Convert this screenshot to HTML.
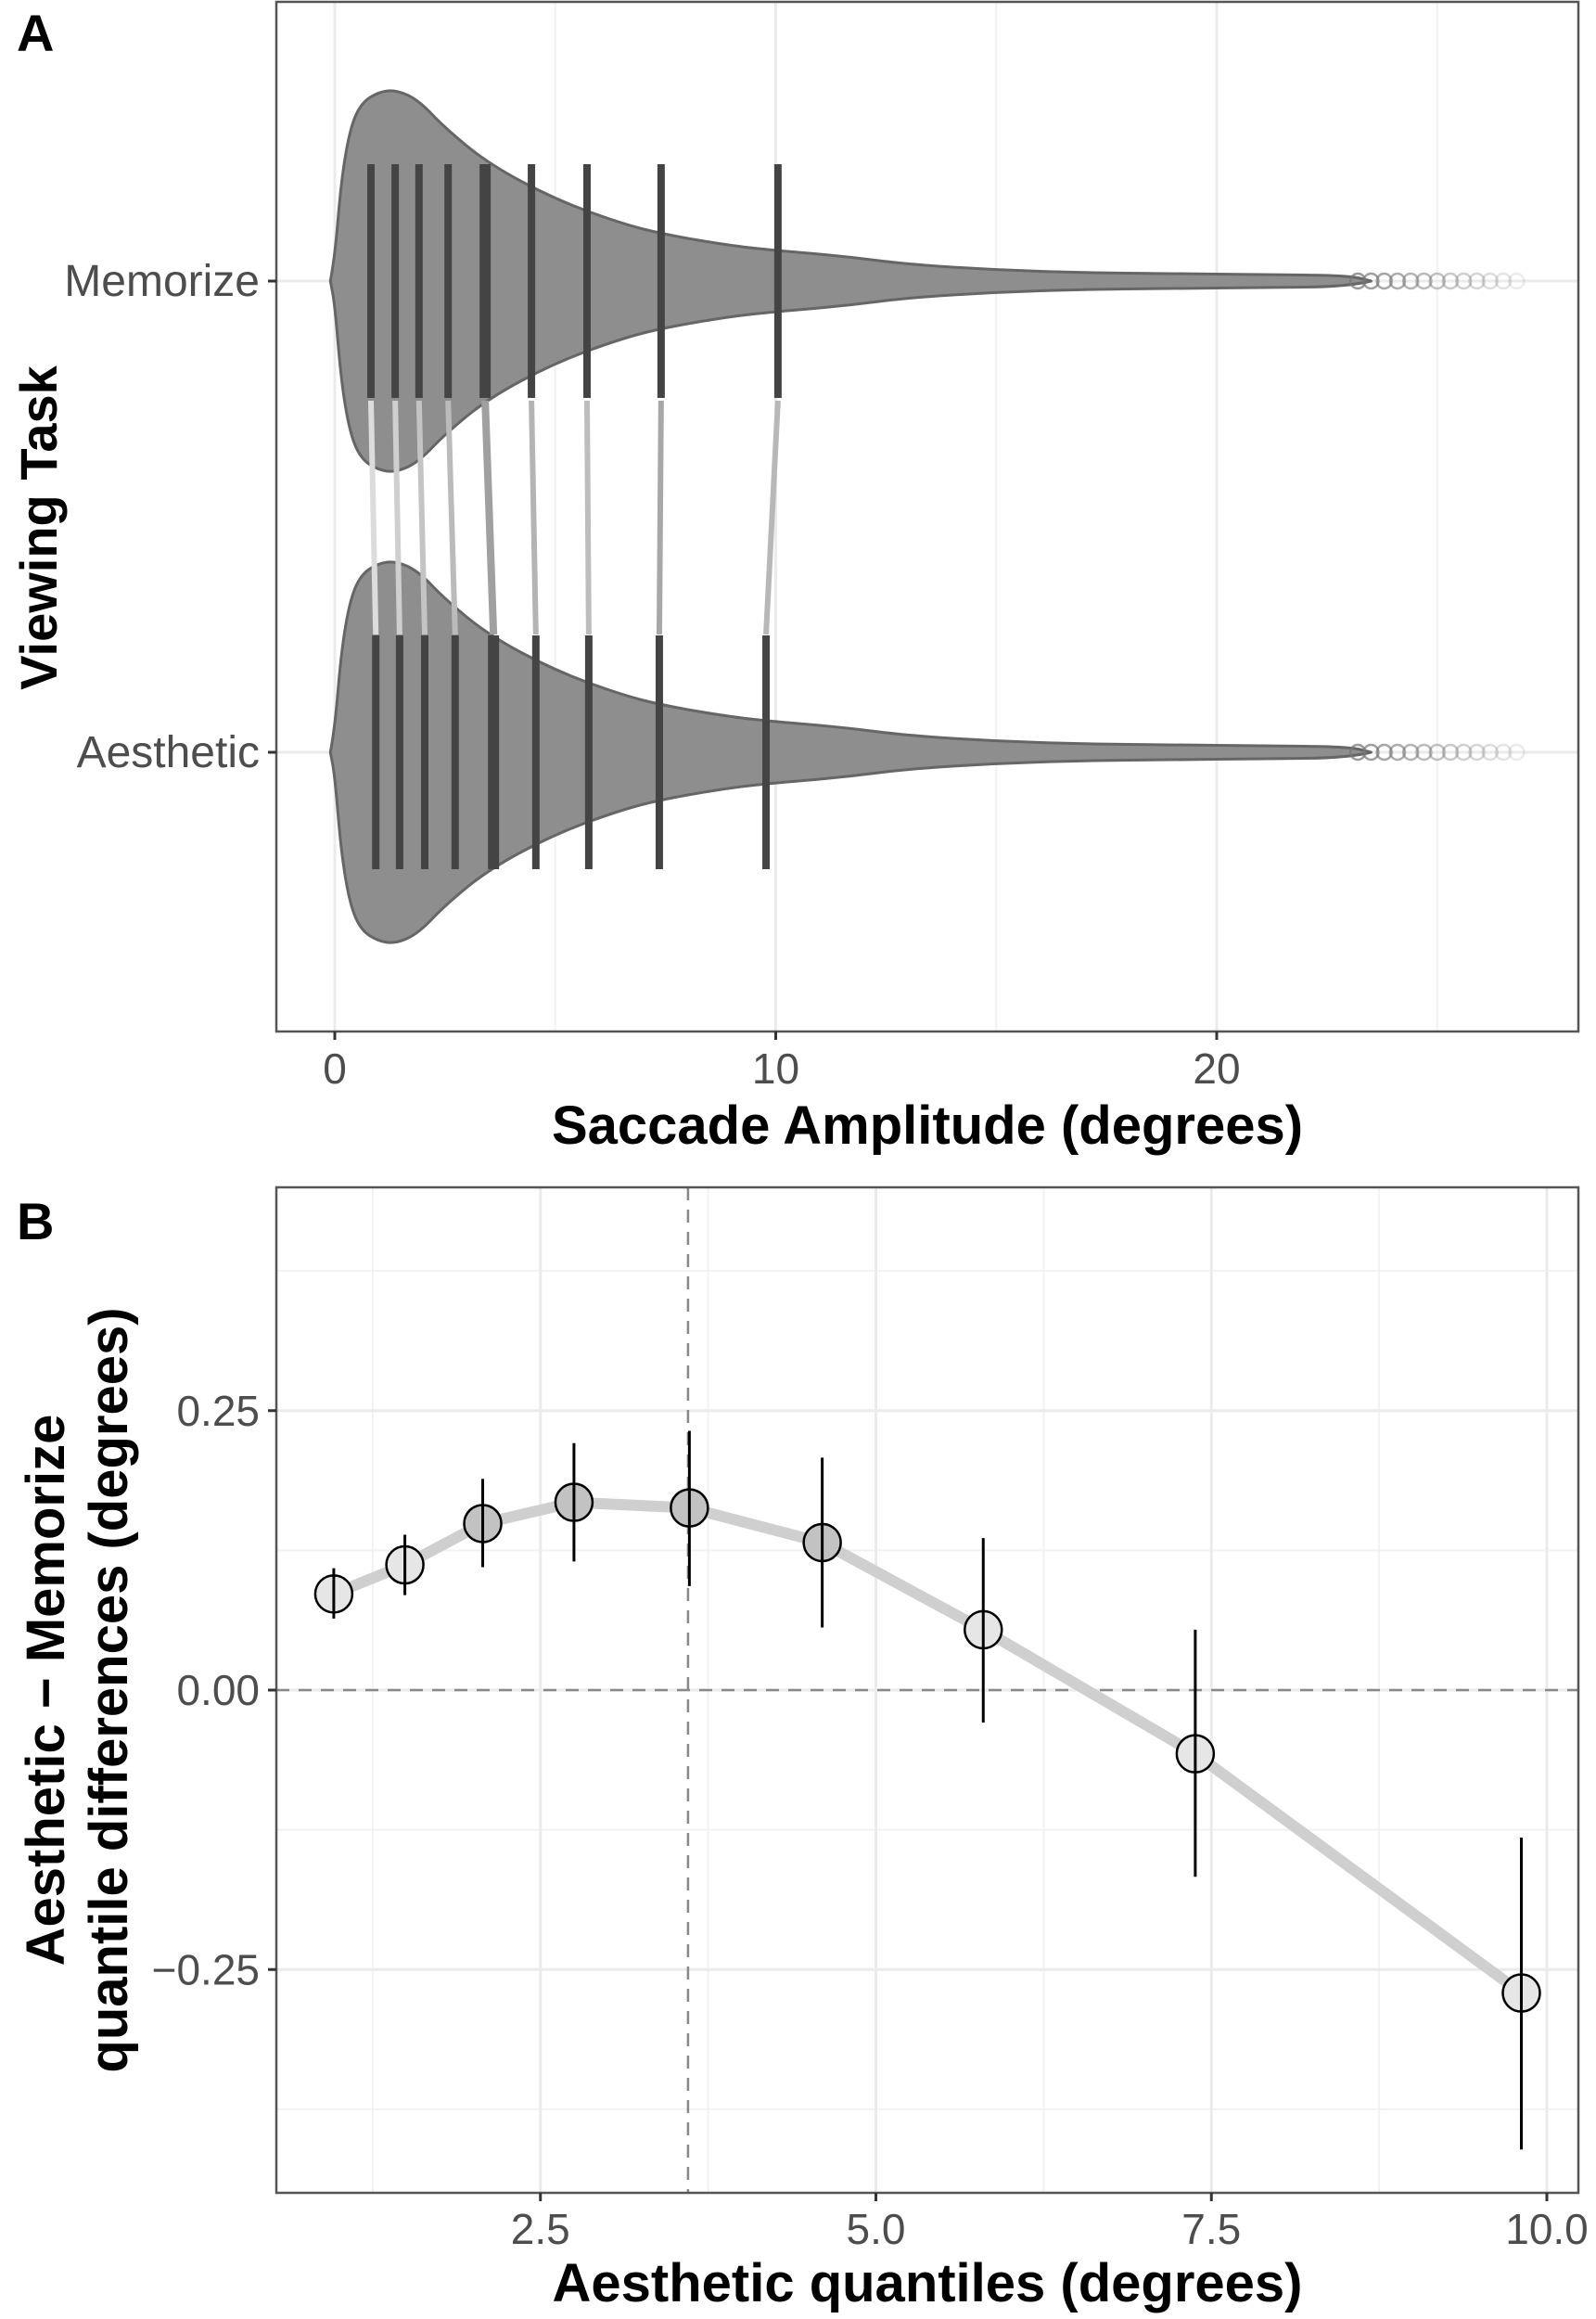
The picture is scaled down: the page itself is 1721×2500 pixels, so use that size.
<!DOCTYPE html>
<html><head><meta charset="utf-8"><style>
html,body{margin:0;padding:0;background:#fff;}
svg{display:block;font-family:"Liberation Sans",sans-serif;}
</style></head><body>
<svg id="fig" width="1721" height="2500" viewBox="0 0 1721 2500" xmlns="http://www.w3.org/2000/svg">
<rect width="1721" height="2500" fill="#fff"/>
<text x="18" y="55" font-size="56" font-weight="bold">A</text>
<text x="18" y="1336" font-size="56" font-weight="bold">B</text>
<g id="pa"></g>
<g id="pb"></g>
</svg>
<script>
// ---- Panel A data ----
const tasks = ["Memorize","Aesthetic"];
const densX = [-0.1,0.0,0.15,0.35,0.6,1.0,1.4,1.9,2.5,3.5,5,6.5,7.5,9,10,11.5,13,15,17,19,21,23,23.5];
const densMem = [0,25,110,165,192,204,206,195,165,126,88,62,50,38,33,27,18,12,9,8,7,6,0];
const densAes = [0,25,110,165,192,204,206,195,165,126,88,62,50,38,33,27,18,12,9,8,7,6,0];
const tailMem = [23.2,23.5,23.8,24.1,24.4,24.7,25.0,25.3,25.6,25.9,26.2,26.5,26.8];
const tailAes = [23.2,23.5,23.8,24.1,24.4,24.7,25.0,25.3,25.6,25.9,26.2,26.5,26.8];
const qMem = [0.82,1.37,1.91,2.57,3.41,4.46,5.72,7.40,10.05];
const qAes = [0.93,1.47,2.04,2.73,3.60,4.56,5.76,7.36,9.78];
const xTicksA = [0,10,20];
// ---- Panel B data ----
const bX = [0.96,1.49,2.07,2.75,3.61,4.60,5.80,7.38,9.81];
const bY = [0.086,0.112,0.149,0.168,0.163,0.132,0.054,-0.057,-0.271];
const bLo = [0.064,0.085,0.110,0.115,0.093,0.056,-0.029,-0.167,-0.411];
const bHi = [0.109,0.139,0.189,0.221,0.232,0.208,0.136,0.054,-0.132];
const bSig = [0,0,1,1,1,1,0,0,0];
const xTicksB = [2.5,5.0,7.5,10.0];
const yTicksB = [0.25,0.00,-0.25];
const yTickLabB = ["0.25","0.00","\u22120.25"];
const medianX = 3.60;

const NS="http://www.w3.org/2000/svg";
function mk(parent,tag,attrs){const e=document.createElementNS(NS,tag);for(const k in attrs)e.setAttribute(k,attrs[k]);parent.appendChild(e);return e;}

// ===== Panel A =====
const A=document.getElementById('pa');
const aL=298,aR=1702,aT=2,aB=1112;
const ax=v=>361+v*47.55;
const ay=i=>[303,811][i];
mk(A,'rect',{x:aL,y:aT,width:aR-aL,height:aB-aT,fill:'#fff'});
[5,15,25].forEach(v=>{const l=mk(A,'line',{x1:ax(v),x2:ax(v),y1:aT,y2:aB,stroke:'#f2f2f2','stroke-width':2});});
xTicksA.forEach(v=>{const l=mk(A,'line',{x1:ax(v),x2:ax(v),y1:aT,y2:aB,stroke:'#ebebeb','stroke-width':3});});
[0,1].forEach(i=>{mk(A,'line',{x1:aL,x2:aR,y1:ay(i),y2:ay(i),stroke:'#ebebeb','stroke-width':3});});
// violins
[densMem,densAes].forEach((d,i)=>{
  const c=ay(i);let top=[],bot=[];
  densX.forEach((v,j)=>{top.push([ax(v),c-d[j]]);bot.push([ax(v),c+d[j]]);});
  function smooth(pts){let s='M'+pts[0].join(',');for(let k=1;k<pts.length-1;k++){const mx=(pts[k][0]+pts[k+1][0])/2,my=(pts[k][1]+pts[k+1][1])/2;s+=' Q'+pts[k].join(',')+' '+mx+','+my;}s+=' L'+pts[pts.length-1].join(',');return s;}
  const br=bot.slice().reverse();
  let p=smooth(top)+' '+smooth(br).replace('M','L')+'Z';
  const v=mk(A,'path',{d:p,fill:'#8e8e8e',stroke:'#666','stroke-width':3,'stroke-linejoin':'round'});
  
  
  const tail=[tailMem,tailAes][i];
  tail.forEach((t,k)=>{const cc=mk(A,'circle',{cx:ax(t),cy:c,r:8,fill:'none',stroke:'#777','stroke-opacity':(0.75-k*0.05).toFixed(2),'stroke-width':2.5});});
});
// connecting segments
const segCol=['#dcdcdc','#cfcfcf','#c4c4c4','#bbb','#a0a0a0','#b4b4b4','#bdbdbd','#a8a8a8','#b8b8b8'];
qMem.forEach((m,k)=>{const l=mk(A,'line',{x1:ax(m),y1:432,x2:ax(qAes[k]),y2:684,stroke:segCol[k],'stroke-width':k==4?8:6});});
[qMem,qAes].forEach((q,i)=>{q.forEach((v,k)=>{const l=mk(A,'line',{x1:ax(v),x2:ax(v),y1:ay(i)-126,y2:ay(i)+126,stroke:'#444','stroke-width':k==4?12:8});});});
mk(A,'rect',{x:aL,y:aT,width:aR-aL,height:aB-aT,fill:'none',stroke:'#555','stroke-width':2.5});
xTicksA.forEach(v=>{mk(A,'line',{x1:ax(v),x2:ax(v),y1:aB,y2:aB+9,stroke:'#333','stroke-width':3});const t=mk(A,'text',{x:ax(v),y:1168,'font-size':46,fill:'#4d4d4d','text-anchor':'middle'});t.textContent=v;});
tasks.forEach((n,i)=>{mk(A,'line',{x1:aL-9,x2:aL,y1:ay(i),y2:ay(i),stroke:'#333','stroke-width':3});const t=mk(A,'text',{x:280,y:ay(i)+16,'font-size':48,fill:'#4d4d4d','text-anchor':'end'});t.textContent=n;});
let t=mk(A,'text',{x:1000,y:1233,'font-size':58,'font-weight':'bold','text-anchor':'middle'});t.textContent='Saccade Amplitude (degrees)';

t=mk(A,'text',{x:0,y:0,'font-size':56,'font-weight':'bold','text-anchor':'middle',transform:'translate(61,569) rotate(-90)'});t.textContent='Viewing Task';


// ===== Panel B =====
const B=document.getElementById('pb');
const bL=298,bR=1702,bT=1280,bB=2364;
const bx=v=>221+v*144.7;
const by=v=>1822-v*1205;
[1.25,3.75,6.25,8.75].forEach(v=>mk(B,'line',{x1:bx(v),x2:bx(v),y1:bT,y2:bB,stroke:'#f2f2f2','stroke-width':2}));
[0.375,0.125,-0.125,-0.375].forEach(v=>mk(B,'line',{x1:bL,x2:bR,y1:by(v),y2:by(v),stroke:'#f2f2f2','stroke-width':2}));
xTicksB.forEach(v=>mk(B,'line',{x1:bx(v),x2:bx(v),y1:bT,y2:bB,stroke:'#ebebeb','stroke-width':3}));
yTicksB.forEach(v=>mk(B,'line',{x1:bL,x2:bR,y1:by(v),y2:by(v),stroke:'#ebebeb','stroke-width':3}));
mk(B,'line',{x1:bL,x2:bR,y1:by(0),y2:by(0),stroke:'#888','stroke-width':2.5,'stroke-dasharray':'14,10'});
mk(B,'line',{x1:bx(medianX),x2:bx(medianX),y1:bT,y2:bB,stroke:'#888','stroke-width':2.5,'stroke-dasharray':'14,10'});
let pl=mk(B,'polyline',{points:bX.map((v,i)=>bx(v)+','+by(bY[i])).join(' '),fill:'none',stroke:'#cfcfcf','stroke-width':12,'stroke-linejoin':'round'});

bX.forEach((v,i)=>{
  const e=mk(B,'line',{x1:bx(v),x2:bx(v),y1:by(bHi[i]),y2:by(bLo[i]),stroke:'#000','stroke-width':3});
  
  const c=mk(B,'circle',{cx:bx(v),cy:by(bY[i]),r:20,fill:bSig[i]?'#c2c2c2':'#e6e6e6',stroke:'#000','stroke-width':2.5});
  
  mk(B,'line',{x1:bx(v),x2:bx(v),y1:by(bY[i])-20,y2:by(bY[i])+20,stroke:'#000','stroke-width':3});
});
mk(B,'rect',{x:bL,y:bT,width:bR-bL,height:bB-bT,fill:'none',stroke:'#555','stroke-width':2.5});
xTicksB.forEach(v=>{mk(B,'line',{x1:bx(v),x2:bx(v),y1:bB,y2:bB+9,stroke:'#333','stroke-width':3});const t=mk(B,'text',{x:bx(v),y:2419,'font-size':46,fill:'#4d4d4d','text-anchor':'middle'});t.textContent=v.toFixed(1);});
yTicksB.forEach((v,i)=>{mk(B,'line',{x1:bL-9,x2:bL,y1:by(v),y2:by(v),stroke:'#333','stroke-width':3});const t=mk(B,'text',{x:280,y:by(v)+16,'font-size':46,fill:'#4d4d4d','text-anchor':'end'});t.textContent=yTickLabB[i];});
t=mk(B,'text',{x:1000,y:2481,'font-size':58,'font-weight':'bold','text-anchor':'middle'});t.textContent='Aesthetic quantiles (degrees)';

t=mk(B,'text',{x:0,y:0,'font-size':58,'font-weight':'bold','text-anchor':'middle',transform:'translate(69,1822) rotate(-90)'});t.textContent='Aesthetic \u2212 Memorize';

t=mk(B,'text',{x:0,y:0,'font-size':58,'font-weight':'bold','text-anchor':'middle',transform:'translate(137,1822) rotate(-90)'});t.textContent='quantile differences (degrees)';

</script>
</body></html>
